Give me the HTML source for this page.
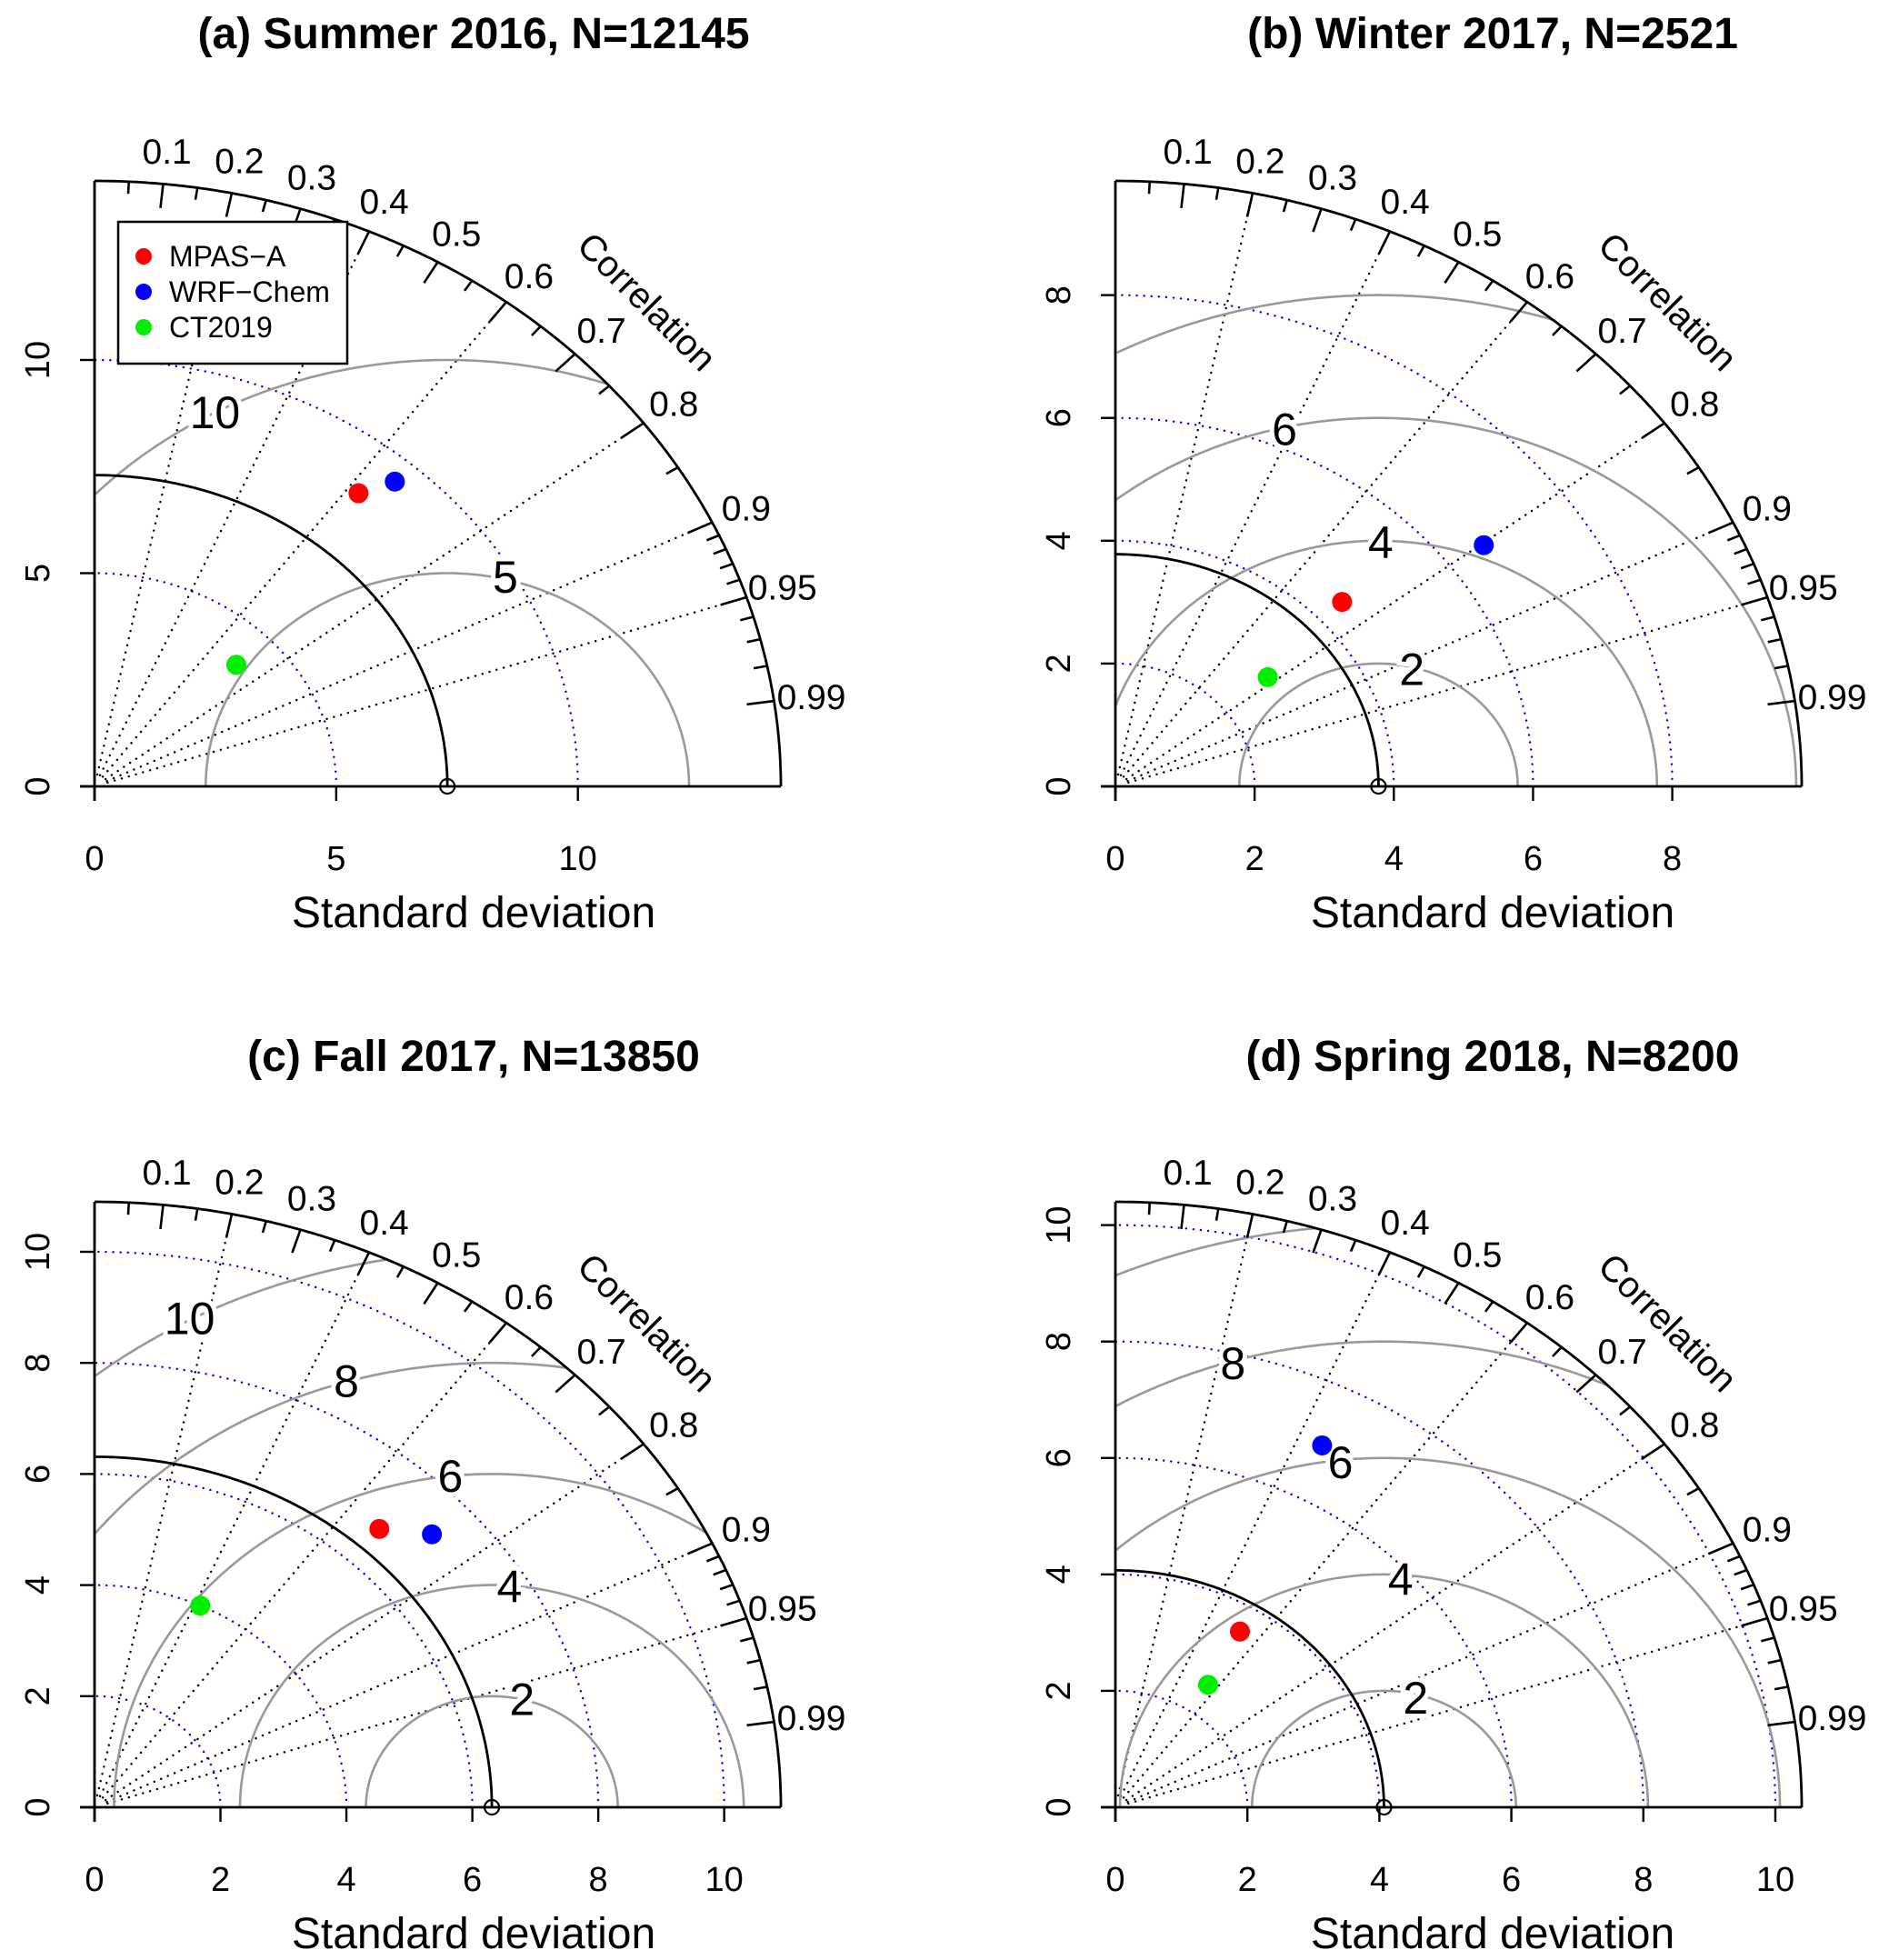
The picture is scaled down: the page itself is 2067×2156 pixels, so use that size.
<!DOCTYPE html>
<html><head><meta charset="utf-8"><style>
html,body{margin:0;padding:0;background:#fff}
svg{display:block}
text{font-family:"Liberation Sans",sans-serif;fill:#000}
</style></head><body>
<svg id="chart" width="2067" height="2156" viewBox="0 0 2067 2156" xmlns="http://www.w3.org/2000/svg"></svg>
<script>
// ---- data (per panel) ----
const panelTitles = ["(a) Summer 2016, N=12145","(b) Winter 2017, N=2521","(c) Fall 2017, N=13850","(d) Spring 2018, N=8200"];
const seriesNames = ["MPAS\u2212A","WRF\u2212Chem","CT2019"];
const seriesColors = ["#ff0000","#0000ff","#00ee00"];
const refSd = [7.3, 3.78, 6.31, 4.07];
const maxSd = [14.2, 9.86, 10.9, 10.4];
const sdA = [8.78, 9.47, 4.09];  const corA = [0.622, 0.656, 0.717];
const sdB = [4.43, 6.59, 2.82];  const corB = [0.735, 0.803, 0.776];
const sdC = [6.75, 7.27, 4.00];  const corC = [0.670, 0.737, 0.420];
const sdD = [3.56, 6.96, 2.53];  const corD = [0.530, 0.450, 0.555];
const axisTicksA = [0,5,10];
const axisTicksB = [0,2,4,6,8];
const axisTicksC = [0,2,4,6,8,10];
const axisTicksD = [0,2,4,6,8,10];
const rmsA = [5,10]; const rmsB = [2,4,6,8]; const rmsC = [2,4,6,8,10]; const rmsD = [2,4,6,8,10];
const corMajor = [0.1,0.2,0.3,0.4,0.5,0.6,0.7,0.8,0.9,0.95,0.99];
const corLines = [0.2,0.4,0.6,0.8,0.9,0.95];
const corMinor = [0.05,0.15,0.25,0.35,0.45,0.55,0.65,0.75,0.85,0.91,0.92,0.93,0.94,0.96,0.97,0.98];
const rmsLabelPosA = [[8.5,4.9],[2.49,8.76]];
const rmsLabelPosB = [[4.26,1.9],[3.81,3.97],[2.43,5.81]];
const rmsLabelPosC = [[6.79,1.94],[6.59,3.97],[5.65,5.96],[4.0,7.67],[1.51,8.8]];
const rmsLabelPosD = [[4.55,1.87],[4.32,3.91],[3.41,5.92],[1.78,7.62]];

const svg = document.getElementById('chart');
const NS = "http://www.w3.org/2000/svg";
function mk(tag, attrs, parent){ const e=document.createElementNS(NS,tag); for(const k in attrs) e.setAttribute(k,attrs[k]); (parent||svg).appendChild(e); return e; }

const RX = 755, RY = 666;
const panels = [
 {ox:104, oy:865, tx:521, ty:37, sd:sdA, cor:corA, ticks:axisTicksA, rms:rmsA, lab:rmsLabelPosA, legend:true},
 {ox:1227, oy:865, tx:1642, ty:37, sd:sdB, cor:corB, ticks:axisTicksB, rms:rmsB, lab:rmsLabelPosB},
 {ox:104, oy:1988, tx:521, ty:1162, sd:sdC, cor:corC, ticks:axisTicksC, rms:rmsC, lab:rmsLabelPosC},
 {ox:1227, oy:1988, tx:1642, ty:1162, sd:sdD, cor:corD, ticks:axisTicksD, rms:rmsD, lab:rmsLabelPosD}
];

panels.forEach((p,i)=>{
  const R = maxSd[i], ref = refSd[i];
  const sx = RX/R, sy = RY/R;
  const X = v => p.ox + v*sx, Y = v => p.oy - v*sy;
  const g = mk('g',{});
  
  

  function arcPath(cx, cy, r, inside){
    let d='', pen=false;
    for(let k=0;k<=720;k++){
      const t=Math.PI*k/720;
      const x=cx+r*Math.cos(t), y=cy+r*Math.sin(t);
      const ok = x>=-1e-9 && y>=-1e-9 && (!inside || x*x+y*y<=R*R*1.0001);
      if(ok){ d += (pen?'L':'M')+X(x).toFixed(1)+' '+Y(y).toFixed(1)+' '; pen=true; } else pen=false;
    }
    return d;
  }

  const t = mk('text',{x:p.tx,y:p.ty+16,'text-anchor':'middle','font-size':48,'font-weight':'bold'},g);
  t.textContent = panelTitles[i];
  
  

  p.ticks.filter(v=>v>0).forEach(v=>{
    const c = mk('path',{d:arcPath(0,0,v,true),fill:'none',stroke:'#0000ff','stroke-width':2.4,'stroke-dasharray':'0.1 8','stroke-linecap':'round'},g);
    
    
  });
  corLines.forEach(c=>{
    const a=Math.acos(c);
    const l = mk('line',{x1:X(0.02*R*Math.cos(a)),y1:Y(0.02*R*Math.sin(a)),x2:X(R*Math.cos(a)),y2:Y(R*Math.sin(a)),stroke:'#000','stroke-width':2.4,'stroke-dasharray':'0.1 8','stroke-linecap':'round'},g);
    
    
  });
  p.rms.forEach(v=>{
    const c = mk('path',{d:arcPath(ref,0,v,true),fill:'none',stroke:'#999','stroke-width':2.6},g);
    
    
  });
  p.rms.forEach((v,k)=>{
    if(!p.lab[k]) return;
    const tl = mk('text',{x:X(p.lab[k][0]),y:Y(p.lab[k][1])+17,'text-anchor':'middle','font-size':50,stroke:'#fff','stroke-width':10,'paint-order':'stroke'},g);
    tl.textContent = String(v);
    
    
  });
  const rc = mk('path',{d:arcPath(0,0,ref,false),fill:'none',stroke:'#000','stroke-width':2.8},g);
  
  
  const oc = mk('path',{d:arcPath(0,0,R,false),fill:'none',stroke:'#000','stroke-width':2.8},g);
  
  
  const ax = mk('line',{x1:X(0)-16,y1:Y(0),x2:X(R),y2:Y(0),stroke:'#000','stroke-width':2.8},g);
  
  
  const ay = mk('line',{x1:X(0),y1:Y(0)+16,x2:X(0),y2:Y(R),stroke:'#000','stroke-width':2.8},g);
  
  
  p.ticks.forEach(v=>{
    mk('line',{x1:X(v),y1:Y(0),x2:X(v),y2:Y(0)+16,stroke:'#000','stroke-width':2.4},g);
    mk('line',{x1:X(0),y1:Y(v),x2:X(0)-16,y2:Y(v),stroke:'#000','stroke-width':2.4},g);
    const xl = mk('text',{x:X(v),y:Y(0)+92,'text-anchor':'middle','font-size':38},g);
    xl.textContent=String(v);
    
    
    const yl = mk('text',{x:0,y:0,'text-anchor':'middle','font-size':38,transform:`translate(${X(0)-50},${Y(v)}) rotate(-90)`},g);
    yl.textContent=String(v);
    
    
  });
  corMajor.forEach(c=>{
    const a=Math.acos(c);
    mk('line',{x1:X(R*Math.cos(a)),y1:Y(R*Math.sin(a)),x2:X(0.96*R*Math.cos(a)),y2:Y(0.96*R*Math.sin(a)),stroke:'#000','stroke-width':2.6},g);
    const tl = mk('text',{x:X(1.055*R*Math.cos(a)),y:Y(1.055*R*Math.sin(a))+14,'text-anchor':'middle','font-size':39},g);
    tl.textContent=String(c);
    
    
  });
  corMinor.forEach(c=>{
    const a=Math.acos(c);
    mk('line',{x1:X(R*Math.cos(a)),y1:Y(R*Math.sin(a)),x2:X(0.98*R*Math.cos(a)),y2:Y(0.98*R*Math.sin(a)),stroke:'#000','stroke-width':2.6},g);
  });
  const cl = mk('text',{x:0,y:0,'text-anchor':'middle','font-size':40,transform:`translate(${X(1.12*R*Math.SQRT1_2)},${Y(1.12*R*Math.SQRT1_2)+4}) rotate(45)`},g);
  cl.textContent='Correlation';
  
  
  const xt = mk('text',{x:p.tx,y:p.oy+155,'text-anchor':'middle','font-size':48},g);
  xt.textContent='Standard deviation';
  
  
  const rp = mk('circle',{cx:X(ref),cy:Y(0),r:8,fill:'none',stroke:'#000','stroke-width':2.2},g);
  
  
  if(p.legend){
    const lg = mk('g',{},g);
    
    
    mk('rect',{x:130,y:244,width:252,height:156,fill:'#fff',stroke:'#000','stroke-width':2.5},lg);
    seriesNames.forEach((n,k)=>{
      const yy=282+k*39;
      const d=mk('circle',{cx:158,cy:yy,r:9,fill:seriesColors[k]},lg);
      
      
      const tx=mk('text',{x:186,y:yy+11,'font-size':32},lg);
      tx.textContent=n;
      
      
    });
  }
  p.sd.forEach((s,k)=>{
    const a=Math.acos(p.cor[k]);
    const pt = mk('circle',{cx:X(s*Math.cos(a)),cy:Y(s*Math.sin(a)),r:11,fill:seriesColors[k]},g);
    
    
  });
});
</script>
</body></html>
